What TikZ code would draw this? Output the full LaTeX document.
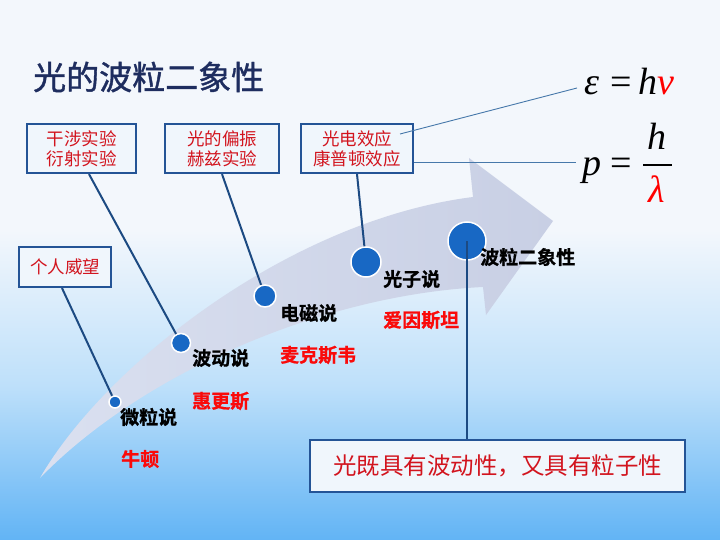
\documentclass[tikz,border=0pt]{standalone}
\usepackage{fontspec}
\setmainfont{Liberation Serif}
\newfontfamily\cjk{Noto Sans CJK SC}
\newfontfamily\cjkt{Noto Sans CJK SC}[FakeBold=1.2]
\newfontfamily\cjkb{Noto Sans CJK SC Bold}[FakeBold=0.8]
\newfontfamily\fmla{Liberation Serif}
\definecolor{bgtop}{RGB}{243,247,252}
\definecolor{bgmid}{RGB}{190,224,250}
\definecolor{bgbot}{RGB}{98,180,245}
\definecolor{bandc}{RGB}{200,207,228}
\definecolor{bandl}{RGB}{218,224,240}
\definecolor{dotblue}{RGB}{24,104,196}
\definecolor{linkblue}{RGB}{28,74,130}
\definecolor{boxborder}{RGB}{36,84,150}
\definecolor{boxfill}{RGB}{240,246,252}
\definecolor{txtred}{RGB}{210,20,30}
\definecolor{brightred}{RGB}{250,10,10}
\definecolor{navy}{RGB}{30,45,95}
\definecolor{thinblue}{RGB}{70,120,170}
\pgfdeclarelayer{back}
\pgfdeclarelayer{mid}
\pgfsetlayers{back,mid,main}
\begin{document}
\begin{tikzpicture}[x=1pt,y=-1pt,
  dot/.style={circle,fill=dotblue,draw=white,line width=1.5pt,inner sep=0pt},
  link/.style={draw=linkblue,line width=2pt},
  thinlink/.style={draw=thinblue,line width=0.9pt},
  lbl/.style={font=\cjkb\fontsize{19}{19}\selectfont,text=black,inner sep=0pt,anchor=west},
  who/.style={lbl,text=brightred},
  infobox/.style={draw=boxborder,fill=boxfill,line width=2.2pt,inner sep=0pt,align=center,text=txtred,font=\cjk\fontsize{17.5}{20}\selectfont},
  fm/.style={font=\fmla\fontsize{38}{38}\selectfont\itshape,inner sep=0pt,anchor=base}
]
\useasboundingbox (0,0) rectangle (720,540);
\begin{pgfonlayer}{back}
  \fill[bgtop] (0,0) rectangle (720,231);
  \shade[top color=bgtop, bottom color=bgbot, middle color=bgmid] (0,230) rectangle (720,540);
  \shade[left color=bandl, right color=bandc]
    (40,478) .. controls (105,365) and (290,220) .. (473,197) -- (469,158) -- (553,221) -- (486,315) -- (483,287)
    .. controls (320,295) and (140,375) .. (40,478) -- cycle;
\end{pgfonlayer}

% title
\node[anchor=west,inner sep=0pt,text=navy,font=\cjkt\fontsize{33}{33}\selectfont] (title) at (33,77) {光的波粒二象性};

% boxes
\node[infobox,minimum width=109pt,minimum height=49pt] (b1) at (81.5,148.5) {干涉实验\\衍射实验};
\node[infobox,minimum width=114pt,minimum height=49pt] (b2) at (222,148.5) {光的偏振\\赫兹实验};
\node[infobox,minimum width=112pt,minimum height=49pt] (b3) at (357,148.5) {光电效应\\康普顿效应};
\node[infobox,minimum width=92pt,minimum height=40pt] (b4) at (65,267) {个人威望};
\node[infobox,minimum width=375pt,minimum height=52pt,font=\cjk\fontsize{23.5}{23.5}\selectfont] (bb) at (497.5,466) {光既具有波动性，又具有粒子性};

% dots
\node[dot,minimum size=12pt] (d1) at (115,402) {};
\node[dot,minimum size=19pt] (d2) at (181,343) {};
\node[dot,minimum size=22pt] (d3) at (265,296) {};
\node[dot,minimum size=30pt] (d4) at (366,262) {};
\node[dot,minimum size=38pt] (d5) at (467,241) {};

% connectors
\begin{pgfonlayer}{mid}
  \draw[link] ([xshift=-3pt]b4.south) -- (d1.center);
  \draw[link] ([xshift=7.5pt]b1.south) -- (d2.center);
  \draw[link] (b2.south) -- (d3.center);
  \draw[link] (b3.south) -- (d4.center);
\end{pgfonlayer}
\draw[link] (d5.center) -- (d5.center |- bb.north);

% labels
\node[lbl] (l1) at (120,417) {微粒说};
\node[who] (n1) at (121,459) {牛顿};
\node[lbl] (l2) at (192,358) {波动说};
\node[who] (n2) at (192,401) {惠更斯};
\node[lbl] (l3) at (280,313) {电磁说};
\node[who] (n3) at (280,355) {麦克斯韦};
\node[lbl] (l4) at (383,279) {光子说};
\node[who] (n4) at (383,320) {爱因斯坦};
\node[lbl] (l5) at (480,257) {波粒二象性};

% formulas
\node[fm] (eps) at (592,95) {ε};
\node[fm,font=\fmla\fontsize{38}{38}\selectfont] (eq1) at (621,95) {=};
\node[fm] (h1) at (648,95) {h};
\node[fm,text=red] (nu) at (666,95) {ν};
\node[fm] (p) at (592,176) {p};
\node[fm,font=\fmla\fontsize{38}{38}\selectfont] (eq2) at (621,176) {=};
\draw[line width=1.6pt] (643,165) -- (672,165);
\node[fm] (h2) at (657,150) {h};
\node[fm,text=red] (lam) at (657,203) {λ};

\coordinate (e1) at (400,134);
\coordinate (e2) at (577,88);
\draw[thinlink] (e1) -- (e2);
\draw[thinlink] (b3.east |- 0,162) -- (576,162);
\end{tikzpicture}
\end{document}
